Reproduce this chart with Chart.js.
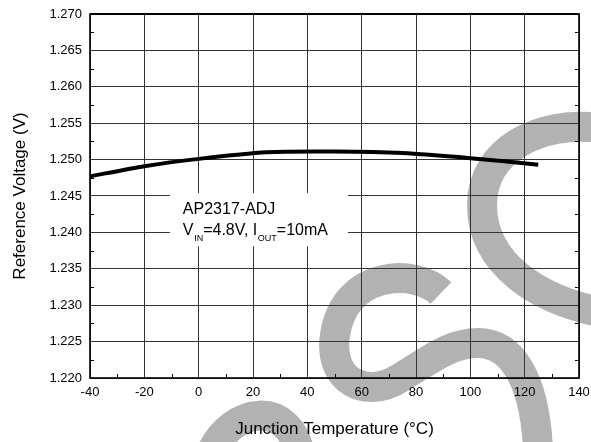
<!DOCTYPE html>
<html>
<head>
<meta charset="utf-8">
<script src="https://cdn.jsdelivr.net/npm/chart.js@4/dist/chart.umd.min.js"></script>
<style>
  html, body { margin: 0; padding: 0; background: #fff; }
  #wrap { width: 591px; height: 442px; }
</style>
</head>
<body>
<div id="wrap"><canvas id="chart"></canvas></div>
<script>
const temps = [-40, -20, 0, 25, 50, 75, 100, 125]
const vref = [1.2477, 1.2491, 1.2501, 1.2510, 1.2511, 1.2509, 1.2502, 1.2493]

const xTicks = [-40, -20, 0, 20, 40, 60, 80, 100, 120, 140]
const yTicks = [1.220, 1.225, 1.230, 1.235, 1.240, 1.245, 1.250, 1.255, 1.260, 1.265, 1.270]
const xMinor = [-30, -10, 10, 30, 50, 70, 90, 110, 130]
const yMinor = [1.2225, 1.2275, 1.2325, 1.2375, 1.2425, 1.2475, 1.2525, 1.2575, 1.2625, 1.2675]

const noteLines = ["AP2317-ADJ", [["V", 0], ["IN", 1], ["=4.8V, I", 0], ["OUT", 1], ["=10mA", 0]]]

const FONT = "'Liberation Sans', Arial, sans-serif"
Chart.defaults.font.family = FONT
Chart.defaults.color = "#000"

// grey "S" watermark that sits behind the whole figure
const watermark = {
  id: "watermark",
  beforeDraw(chart) {
    const ctx = chart.ctx
    ctx.save()
    ctx.strokeStyle = "#b2b2b2"
    ctx.lineWidth = 30
    ctx.lineCap = "butt"

    ctx.beginPath()
    ctx.moveTo(600, 128)
    ctx.bezierCurveTo(540, 120, 482, 150, 482, 205)
    ctx.bezierCurveTo(482, 265, 540, 300, 600, 312)
    ctx.stroke()

    ctx.beginPath()
    ctx.moveTo(441, 293)
    ctx.bezierCurveTo(415, 268, 345, 270, 335, 335)
    ctx.bezierCurveTo(328, 380, 365, 400, 400, 378)
    ctx.bezierCurveTo(430, 360, 450, 343, 478, 343)
    ctx.bezierCurveTo(512, 343, 535, 380, 538, 450)
    ctx.stroke()

    ctx.beginPath()
    ctx.moveTo(210, 455)
    ctx.bezierCurveTo(232, 405, 290, 400, 300, 455)
    ctx.stroke()
    ctx.restore()
  },
}

// frame + small minor ticks on left, right and bottom edges
const frame = {
  id: "frame",
  beforeDatasetsDraw(chart) {
    const { ctx, chartArea: a, scales } = chart
    ctx.save()
    ctx.strokeStyle = "#000"
    ctx.lineWidth = 1
    ctx.beginPath()
    yMinor.forEach(function (v) {
      let py = Math.round(scales.y.getPixelForValue(v)) + 0.5
      ctx.moveTo(a.left, py)
      ctx.lineTo(a.left + 4, py)
      ctx.moveTo(a.right, py)
      ctx.lineTo(a.right - 4, py)
    })
    xMinor.forEach(function (v) {
      let px = Math.round(scales.x.getPixelForValue(v)) + 0.5
      ctx.moveTo(px, a.bottom)
      ctx.lineTo(px, a.bottom - 4)
    })
    ctx.stroke()
    ctx.lineWidth = 1.6
    ctx.strokeRect(a.left, a.top, a.right - a.left, a.bottom - a.top)
    ctx.lineWidth = 2.2
    ctx.beginPath()
    ctx.moveTo(a.left, a.top)
    ctx.lineTo(a.right, a.top)
    ctx.stroke()
    ctx.restore()
  },
}

const note = {
  id: "note",
  afterDatasetsDraw(chart) {
    const { ctx, scales } = chart
    const left = scales.x.getPixelForValue(-10.6)
    const right = scales.x.getPixelForValue(55)
    const top = scales.y.getPixelForValue(1.2454)
    const bottom = scales.y.getPixelForValue(1.2381)
    ctx.save()
    ctx.fillStyle = "#fff"
    ctx.fillRect(left, top, right - left, bottom - top)

    ctx.fillStyle = "#000"
    ctx.textBaseline = "alphabetic"
    ctx.textAlign = "left"
    let tx = left + 13
    ctx.font = "16px " + FONT
    ctx.fillText(noteLines[0], tx, top + 21)

    let x = tx
    noteLines[1].forEach(function (part) {
      let sub = part[1] == 1
      ctx.font = (sub ? "9px " : "16px ") + FONT
      ctx.fillText(part[0], x, top + (sub ? 48 : 42))
      x += ctx.measureText(part[0]).width + (sub ? 0 : 0.6)
    })
    ctx.restore()
  },
}

const config = {
  type: "line",
  data: {
    datasets: [
      {
        data: temps.map((t, i) => ({ x: t, y: vref[i] })),
        borderColor: "#000",
        borderWidth: 4,
        pointRadius: 0,
        tension: 0.25,
        fill: false,
      },
    ],
  },
  options: {
    responsive: true,
    maintainAspectRatio: false,
    animation: false,
    layout: {
      padding: { top: 14, right: 12, left: 0, bottom: 0 },
    },
    plugins: {
      legend: { display: false },
      tooltip: { enabled: false },
    },
    scales: {
      x: {
        type: "linear",
        min: -40,
        max: 140,
        afterBuildTicks: (s) => {
          s.ticks = xTicks.map((v) => ({ value: v }))
        },
        afterFit: (s) => {
          s.height = 64
          s.paddingLeft = 0
          s.paddingRight = 0
        },
        grid: { color: "#333", lineWidth: 1, drawTicks: false },
        border: { display: false },
        ticks: {
          padding: 7,
          font: { size: 13 },
          color: "#000",
          maxRotation: 0,
          callback: (v) => String(v),
        },
        title: {
          display: true,
          text: "Junction Temperature (\u00B0C)",
          font: { size: 17 },
          color: "#000",
          padding: { top: 0, bottom: 2 },
        },
      },
      y: {
        type: "linear",
        min: 1.22,
        max: 1.27,
        afterBuildTicks: (s) => {
          s.ticks = yTicks.map((v) => ({ value: v }))
        },
        afterFit: (s) => {
          s.width = 90
          s.paddingTop = 0
          s.paddingBottom = 0
        },
        grid: { color: "#333", lineWidth: 1, drawTicks: false },
        border: { display: false },
        ticks: {
          padding: 8,
          font: { size: 13 },
          color: "#000",
          callback: (v) => Number(v).toFixed(3),
        },
        title: {
          display: true,
          text: "Reference Voltage (V)",
          font: { size: 17 },
          color: "#000",
          padding: { top: 10, bottom: 0 },
        },
      },
    },
  },
  plugins: [watermark, frame, note],
}

const chart = new Chart(document.getElementById("chart"), config)
</script>
</body>
</html>
